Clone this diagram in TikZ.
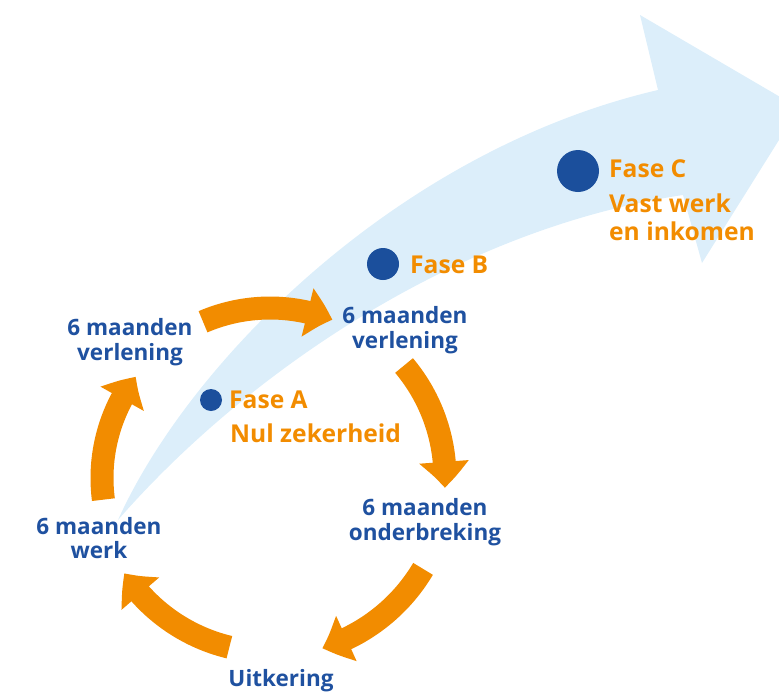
\documentclass[tikz,border=0pt]{standalone}
\usepackage{fontspec}
\setmainfont{Open Sans}
\usetikzlibrary{arrows.meta,bending}
\definecolor{faseorange}{HTML}{F28C00}
\definecolor{fasedot}{HTML}{1B4F9C}
\definecolor{labelblue}{HTML}{1F51A0}
\definecolor{pathblue}{HTML}{DCEEFA}

\begin{document}
\begin{tikzpicture}[x=1pt, y=-1pt,
        stage/.style={text=labelblue, font=\bfseries\fontsize{22.5}{24.5}\selectfont, align=center, inner sep=0pt},
        phase/.style={text=faseorange, font=\bfseries\fontsize{24.6}{28}\selectfont, anchor=base west, inner sep=0pt},
        phasedot/.style={circle, fill=fasedot, inner sep=0pt},
        cyclearrow/.style={draw=faseorange, line width=23pt, -{Triangle[width=48pt, length=26pt, bend]}}]
        \useasboundingbox (0, 0) rectangle (779, 691);
        \clip (0, 0) rectangle (779, 691);

        \fill[pathblue] (118, 520) .. controls (190, 360) and (400, 150) .. (658, 90)
                -- (640, 15) -- (799, 108) -- (702, 263) -- (683, 195)
                .. controls (450, 230) and (240, 380) .. (118, 520) -- cycle;

        \coordinate (ringcentre) at (270, 478);
        \foreach \from/\to/\r in {172.6/217/168, 246.8/291.5/170, 320/363.2/175, 30.7/72.9/178, 103.5/146.8/174}
                \draw[cyclearrow] (ringcentre) ++(\from:\r) arc [start angle=\from, end angle=\to, radius=\r];

        \node[phasedot, minimum size=22pt] (dotA) at (211, 400) {};
        \node[phasedot, minimum size=32pt] (dotB) at (383, 264) {};
        \node[phasedot, minimum size=42pt] (dotC) at (578, 171) {};

        \node[stage] (werk) at (99, 538) {6 maanden\\werk};
        \node[stage] (verlengL) at (130, 342) {6 maanden\\verlening};
        \node[stage] (verlengR) at (405, 330) {6 maanden\\verlening};
        \node[stage] (onderbreking) at (425, 522) {6 maanden\\onderbreking};
        \node[stage, anchor=base] (uitkering) at (281, 686) {Uitkering};

        \node[phase] (faseA) at (229, 408) {Fase A};
        \node[phase] (nulA) at (230, 442) {Nul zekerheid};
        \node[phase] (faseB) at (410, 273) {Fase B};
        \node[phase] (faseC) at (609, 177) {Fase C};
        \node[phase] (vastC) at (609, 212) {Vast werk};
        \node[phase] (inkomenC) at (609, 240) {en inkomen};
\end{tikzpicture}
\end{document}
